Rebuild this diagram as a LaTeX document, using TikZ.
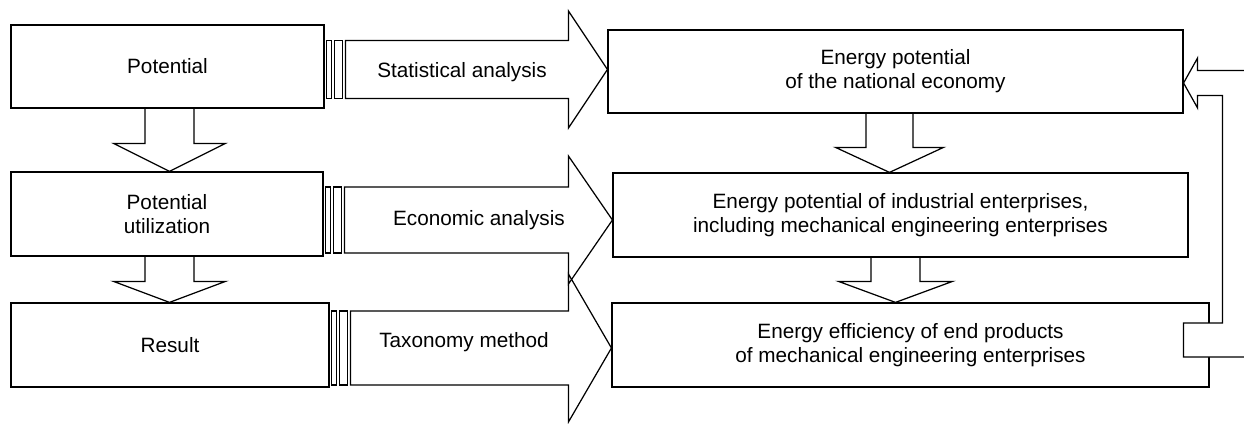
\documentclass[tikz,border=0pt]{standalone}
\usepackage{fontspec}
\setmainfont{Liberation Sans}
\usetikzlibrary{calc}
\tikzset{
    ln/.style={black, line width=0.7pt},
    blk/.style={ln, draw, rectangle, inner sep=0pt, align=center, font=\fontsize{11.8}{13.6}\selectfont},
    lbl/.style={inner sep=0pt, font=\fontsize{11.8}{13.6}\selectfont}
}
\newcommand{\DownBlock}[6]{
    \coordinate (s) at ($(#2.north |- #1.south)+(#3,0)$);
    \coordinate (t) at ($(#2.north)+(#3,0)$);
    \draw[ln] ($(s)+(-#4,0)$) -- ($(t)+(-#4,-#6)$) -- ($(t)+(-#5,-#6)$) -- (t) -- ($(t)+(#5,-#6)$) -- ($(t)+(#4,-#6)$) -- ($(s)+(#4,0)$);
}
\newcommand{\SideBlock}[7]{
    \coordinate (o) at ($(#1.east |- #2)+(0,#7)$);
    \coordinate (t) at ($(#3.west |- #2)+(0,#7)$);
    \draw[ln] ($(o)+(2,-#4)$) rectangle ($(o)+(7,#4)$);
    \draw[ln] ($(o)+(10,-#4)$) rectangle ($(o)+(18,#4)$);
    \draw[ln] ($(o)+(21,-#4)$) -- ($(t)+(-#6,-#4)$) -- ($(t)+(-#6,-#5)$) -- (t) -- ($(t)+(-#6,#5)$) -- ($(t)+(-#6,#4)$) -- ($(o)+(21,#4)$) -- cycle;
}
\begin{document}
\begin{tikzpicture}[x=0.02cm, y=-0.02cm]
    \useasboundingbox (0,0) rectangle (1244,423);
    % left column
    \node[blk, minimum width=6.26cm, minimum height=1.66cm] (pot) at (167.5,66.5) {Potential};
    \node[blk, minimum width=6.24cm, minimum height=1.68cm] (use) at (167,214) {Potential\\utilization};
    \node[blk, minimum width=6.36cm, minimum height=1.68cm] (res) at (170,345) {Result};
    % right column
    \node[blk, minimum width=11.5cm, minimum height=1.66cm] (nat) at (895.5,71.5) {Energy potential\\of the national economy};
    \node[blk, minimum width=11.5cm, minimum height=1.68cm] (ind) at (900.5,215) {Energy potential of industrial enterprises,\\including mechanical engineering enterprises};
    \node[blk, minimum width=11.94cm, minimum height=1.68cm] (eff) at (910.5,345) {Energy efficiency of end products\\of mechanical engineering enterprises};
    % methods
    \node[lbl] (stat) at (462,72.5) {Statistical analysis};
    \node[lbl] (econ) at (479,220) {Economic analysis};
    \node[lbl] (tax) at (464,342) {Taxonomy method};
    \SideBlock{pot}{stat}{nat}{29}{58.5}{39}{-3}
    \SideBlock{use}{econ}{ind}{33}{64}{44}{0}
    \SideBlock{res}{tax}{eff}{37}{74}{43}{6}
    \DownBlock{pot}{use}{2.5}{24.5}{56}{28}
    \DownBlock{use}{res}{-0.5}{24.5}{56}{21}
    \DownBlock{nat}{ind}{-11}{23.5}{54}{25}
    \DownBlock{ind}{eff}{-15}{24.5}{57}{21}
    % feedback
    \coordinate (fb) at ($(nat.east)+(0,11.5)$);
    \draw[ln, fill=white] ($(fb)+(61,-12.5)$) -- ($(fb)+(14,-12.5)$) -- ($(fb)+(14,-25)$) -- (fb) -- ($(fb)+(14,25)$) -- ($(fb)+(14,12.5)$) -- ($(fb)+(39,12.5)$) |- ($(eff.east)+(-26,-22)$) -- ($(eff.east)+(-26,12)$) -- ($(eff.east)+(35,12)$);
\end{tikzpicture}
\end{document}
